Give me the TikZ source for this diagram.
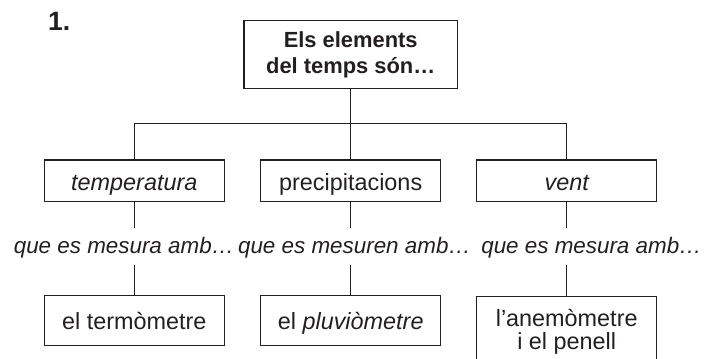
\documentclass[tikz,border=0pt]{standalone}
\usepackage{fontspec}
\setmainfont{Liberation Sans}
\definecolor{ink}{HTML}{231F20}
\begin{document}
\begin{tikzpicture}[x=1pt,y=-1pt,
  basebox/.style={draw=ink, line width=1.2pt, minimum width=180pt, inner xsep=0pt,
    text=ink, font=\fontsize{23.4}{23}\selectfont},
  box/.style={basebox, inner ysep=0pt, text height=18.5pt, text depth=0pt},
  mid/.style={box, minimum height=41.7pt},
  low/.style={box, minimum height=50pt},
  qtext/.style={anchor=base, inner sep=0pt, text height=25pt, text depth=12pt,
    text=ink, font=\fontsize{22.4}{23}\selectfont\itshape},
  link/.style={draw=ink, line width=1.2pt}]
\useasboundingbox (0,0) rectangle (721,359);

\node[anchor=base west, inner sep=0pt, text=ink,
  font=\fontsize{26.5}{28}\selectfont\bfseries] (num) at (48,30) {1.};

\node[draw=ink, line width=1.2pt, minimum width=213.3pt, minimum height=67.6pt,
  inner sep=0pt, align=center, text=ink,
  font=\fontsize{21.9}{26}\selectfont\bfseries] (top) at (350.7,54.5)
  {Els elements\\del temps són…};

\node[mid] (t1) at (134.3,180.85) {\itshape temperatura};
\node[mid] (t2) at (350.7,180.85) {precipitacions};
\node[mid] (t3) at (566.7,180.85) {\itshape vent};

\node[qtext] (q1) at (124,253) {que es mesura amb…};
\node[qtext] (q2) at (354.5,253) {que es mesuren amb…};
\node[qtext] (q3) at (591.5,253) {que es mesura amb…};

\node[low] (b1) at (134.3,320.7) {el termòmetre};
\node[low] (b2) at (350.7,320.7) {el \textit{pluviòmetre}};
\node[basebox, anchor=north, inner ysep=12.7pt, minimum height=90pt,
  align=center, text depth=45pt] (b3) at (566.7,295.7)
  {l’anemòmetre\\i el penell};

\coordinate (bar) at (350.7,123.3);
\draw[link] (top.south) -- (t2.north);
\draw[link] (t1.north) |- (bar) -| (t3.north);

\draw[link] (t1.south) -- (t1.south |- q1.north);
\draw[link] (t2.south) -- (t2.south |- q2.north);
\draw[link] (t3.south) -- (t3.south |- q3.north);

\draw[link] (b1.north |- q1.south) -- (b1.north);
\draw[link] (b2.north |- q2.south) -- (b2.north);
\draw[link] (b3.north |- q3.south) -- (b3.north);
\end{tikzpicture}
\end{document}
